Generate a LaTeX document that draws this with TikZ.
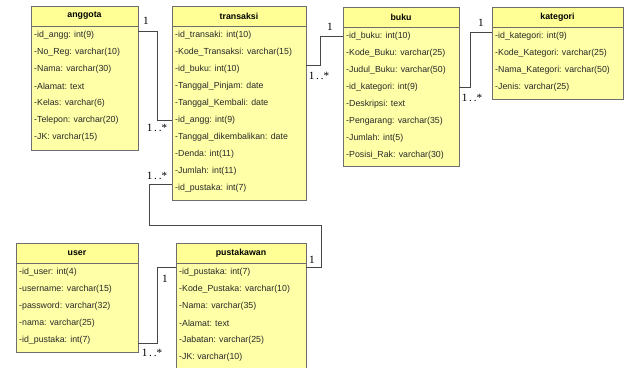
\documentclass[tikz,border=0pt]{standalone}
\usepackage{fontspec}
\setmainfont{Liberation Sans}
\newfontfamily\multfont{Liberation Serif}
\usepackage{tikz}
\usetikzlibrary{fit}
\definecolor{boxfill}{RGB}{255,255,168}
\definecolor{headfill}{RGB}{255,255,150}
\definecolor{boxline}{RGB}{110,110,110}
\definecolor{linkline}{RGB}{70,70,70}
\definecolor{attrtext}{RGB}{40,40,40}
\tikzset{
	classbox/.style  = {draw=boxline, fill=boxfill, rectangle, inner sep=0pt,
		line width=0.7pt},
	classhead/.style = {font=\fontsize{7.5}{9}\selectfont\bfseries, inner sep=0pt},
	sepline/.style   = {draw=boxline, line width=0.6pt},
	attr/.style      = {anchor=west, inner sep=0pt, text=attrtext,
		font=\fontsize{7.5}{9}\selectfont},
	link/.style      = {draw=linkline, line width=0.8pt},
	mult/.style      = {inner sep=0pt, font=\multfont\fontsize{9.5}{11}\selectfont}
}
% one class: name, x1, y1, x2, y2, rows
\newcommand{\umlclass}[6]{%
	\node[classbox, fit={(#2,#3) (#4,#5)}] (#1) {};
	\fill[headfill] (#2,#3) rectangle (#4,#3+20);
	\draw[classbox, fill=none] (#2,#3) rectangle (#4,#5);
	\node[classhead] (#1-head) at ({(#2+#4)/2},#3+10) {#1};
	\draw[sepline] (#2,#3+20) -- (#4,#3+20);
	\foreach \row [count=\i] in {#6}
		\node[attr] (#1-\i) at (#2+3,#3+20+17*\i-8) {\row};
}

\begin{document}
\begin{tikzpicture}[x=0.03cm, y=-0.03cm]
\clip (0,0) rectangle (626,367);
\fill[white] (0,0) rectangle (626,367);

% classes
\umlclass{anggota}{31}{6}{138}{150}{-id\_angg: int(9), -No\_Reg: varchar(10),
	-Nama: varchar(30), -Alamat: text, -Kelas: varchar(6), -Telepon: varchar(20),
	-JK: varchar(15)}
\umlclass{transaksi}{172}{6}{306}{200}{-id\_transaki: int(10),
	-Kode\_Transaksi: varchar(15), -id\_buku: int(10), -Tanggal\_Pinjam: date,
	-Tanggal\_Kembali: date, -id\_angg: int(9), -Tanggal\_dikembalikan: date,
	-Denda: int(11), -Jumlah: int(11), -id\_pustaka: int(7)}
\umlclass{buku}{343}{7}{459}{166}{-id\_buku: int(10), -Kode\_Buku: varchar(25),
	-Judul\_Buku: varchar(50), -id\_kategori: int(9), -Deskripsi: text,
	-Pengarang: varchar(35), -Jumlah: int(5), -Posisi\_Rak: varchar(30)}
\umlclass{kategori}{492}{7}{623}{99}{-id\_kategori: int(9),
	-Kode\_Kategori: varchar(25), -Nama\_Kategori: varchar(50),
	-Jenis: varchar(25)}
\umlclass{user}{16}{243}{138}{352}{-id\_user: int(4), -username: varchar(15),
	-password: varchar(32), -nama: varchar(25), -id\_pustaka: int(7)}
\umlclass{pustakawan}{176}{243}{306}{380}{-id\_pustaka: int(7),
	-Kode\_Pustaka: varchar(10), -Nama: varchar(35), -Alamat: text,
	-Jabatan: varchar(25), -JK: varchar(10)}

% relations
\draw[link] (anggota.east |- 0,31) -| (157,120) -- (transaksi.west |- 0,120);
\draw[link] (transaksi.east |- 0,65) -| (320,36) -- (buku.west |- 0,36);
\draw[link] (buku.east |- 0,87) -| (470,32) -- (kategori.west |- 0,32);
\draw[link] (transaksi.west |- 0,184) -| (149,225) -| (321,267)
	-- (pustakawan.east |- 0,267);
\draw[link] (user.east |- 0,343) -| (157,267) -- (pustakawan.west |- 0,267);

% multiplicities
\node[mult] (m1a) at (146,21) {1};
\node[mult] (m1b) at (157,128) {1\,.\,.*};
\node[mult] (m2a) at (330,27) {1};
\node[mult] (m2b) at (319,76) {1\,.\,.*};
\node[mult] (m3a) at (481,23) {1};
\node[mult] (m3b) at (472,98) {1\,.\,.*};
\node[mult] (m4a) at (157,176) {1\,.\,.*};
\node[mult] (m4b) at (312,260) {1};
\node[mult] (m5a) at (165,279) {1};
\node[mult] (m5b) at (152,353) {1\,.\,.*};
\end{tikzpicture}
\end{document}
